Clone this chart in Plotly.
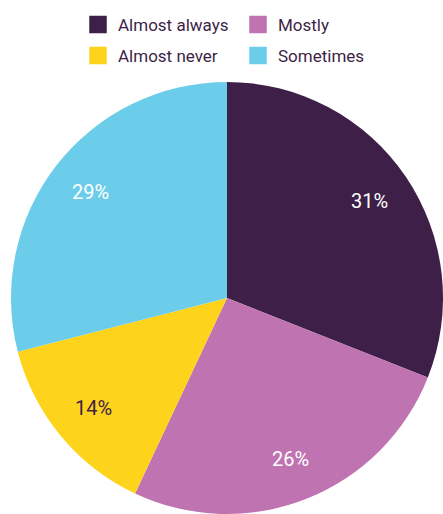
import math
import plotly.graph_objects as go

categories = ["Almost always", "Mostly", "Almost never", "Sometimes"]
values = [31, 26, 14, 29]
colors = ["#3e1f47", "#bf73b0", "#fdd31c", "#6ccdeb"]
label_colors = ["#ffffff", "#ffffff", "#3e1f47", "#ffffff"]
legend_rows = ["legend", "legend", "legend2", "legend2"]

FONT = "Roboto"
TEXT = "#3e1f47"

fig = go.Figure()
fig.add_trace(go.Pie(
    labels=categories, values=values, sort=False, direction="clockwise",
    rotation=0, marker=dict(colors=colors, line=dict(width=0)),
    textinfo="none", hoverinfo="label+percent", showlegend=False,
    domain=dict(x=[0, 1], y=[0, 1]),
))

# legend entries
for cat, col, lg in zip(categories, colors, legend_rows):
    fig.add_trace(go.Scatter(
        x=[None], y=[None], mode="markers", name=cat,
        marker=dict(symbol="square", size=16, color=col,
                    line=dict(width=1.5, color=col)),
        legend=lg, showlegend=True,
    ))

# percentage labels at 0.8 R along mid-angle
total = sum(values)
cum = 0
annotations = []
for v, tc in zip(values, label_colors):
    mid = (cum + v / 2) / total * 2 * math.pi
    cum += v
    annotations.append(dict(
        x=0.5 + 0.4 * math.sin(mid), y=0.5 + 0.4 * math.cos(mid),
        xref="paper", yref="paper", text=f"{round(v / total * 100)}%",
        showarrow=False, font=dict(family=FONT, size=20, color=tc),
        xanchor="center", yanchor="middle",
    ))

legend_common = dict(
    orientation="h", xref="container", yref="container",
    xanchor="left", yanchor="middle", entrywidth=115, entrywidthmode="pixels",
    font=dict(family=FONT, size=17, color=TEXT), bgcolor="rgba(0,0,0,0)",
    itemclick=False, itemdoubleclick=False,
)

fig.update_layout(
    width=443, height=514,
    margin=dict(l=11, r=0, t=82, b=0),
    paper_bgcolor="white", plot_bgcolor="white",
    font=dict(family=FONT, color=TEXT),
    xaxis=dict(visible=False), yaxis=dict(visible=False),
    legend=dict(x=78 / 443, y=1 - 25 / 514, **legend_common),
    legend2=dict(x=78 / 443, y=1 - 56 / 514, **legend_common),
    annotations=annotations,
)

fig.write_html("out.html", config={"displayModeBar": False})
